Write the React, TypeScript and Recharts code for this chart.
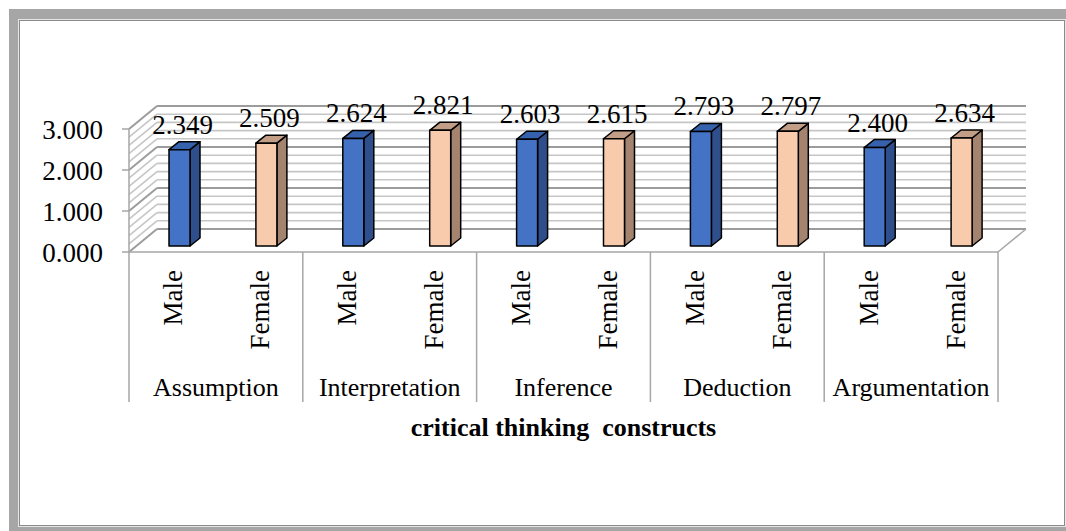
import { BarChart, Bar, XAxis, YAxis, CartesianGrid, LabelList } from 'recharts';

const constructs = ['Assumption', 'Interpretation', 'Inference', 'Deduction', 'Argumentation'];
const genders = ['Male', 'Female'];
const maleScores = [2.349, 2.624, 2.603, 2.793, 2.4];
const femaleScores = [2.509, 2.821, 2.615, 2.797, 2.634];
const valueTicks = [0, 1, 2, 3];
const wallTicks = [0, 0.2, 0.4, 0.6, 0.8, 1, 1.2, 1.4, 1.6, 1.8, 2, 2.2, 2.4, 2.6, 2.8, 3];
const axisTitle = 'critical thinking  constructs';

const data = constructs.flatMap((construct, i) => [
  { id: `${construct}-${genders[0]}`, construct, gender: genders[0], score: maleScores[i] },
  { id: `${construct}-${genders[1]}`, construct, gender: genders[1], score: femaleScores[i] },
]);

// layout
const W = 1066;
const H = 531;
const PLOT_LEFT = 129;
const PLOT_RIGHT = 998;
const SLOT = (PLOT_RIGHT - PLOT_LEFT) / data.length;
const FONT = 'Liberation Serif';
const GRID_GRAY = '#a6a6a6';

// fake 3d offsets
const WALL_DX = 28;
const WALL_DY = -23;
const BAR_OFF_X = 7;
const BAR_OFF_Y = -6;
const BAR_DX = 10;
const BAR_DY = -8;

const colors: Record<string, { front: string; side: string; top: string }> = {
  Male: { front: '#4472c4', side: '#2e4f8c', top: '#3662ad' },
  Female: { front: '#f8cbad', side: '#a5846f', top: '#c29e86' },
};

function WallLine(props: any) {
  const { x1, y1, x2, index, y, height } = props;
  const major = index % 5 === 0;
  const stroke = major ? '#9c9c9c' : '#c6c6c6';
  const sw = major ? 2 : 1.6;
  const isFloor = typeof y === 'number' && typeof height === 'number' && Math.abs(y1 - (y + height)) < 1;
  return (
    <g key={props.key ?? `wall-${index}`}>
      <line x1={x1} y1={y1} x2={x1 + WALL_DX} y2={y1 + WALL_DY} stroke={stroke} strokeWidth={sw} />
      <line x1={x1 + WALL_DX} y1={y1 + WALL_DY} x2={x2 + WALL_DX} y2={y1 + WALL_DY} stroke={stroke} strokeWidth={sw} />
      {isFloor && <line x1={x2} y1={y1} x2={x2 + WALL_DX} y2={y1 + WALL_DY} stroke={GRID_GRAY} strokeWidth={1.5} />}
    </g>
  );
}

function Column3D(props: any) {
  const { x, y, width, height, payload } = props;
  if (!height || height <= 0) return null;
  const c = colors[payload.gender];
  const fx = x + BAR_OFF_X;
  const fy = y + BAR_OFF_Y;
  const r = fx + width;
  const b = fy + height;
  return (
    <g stroke="#000" strokeWidth={1.5} strokeLinejoin="round">
      <polygon points={`${r},${fy} ${r + BAR_DX},${fy + BAR_DY} ${r + BAR_DX},${b + BAR_DY} ${r},${b}`} fill={c.side} />
      <polygon points={`${fx},${fy} ${fx + BAR_DX},${fy + BAR_DY} ${r + BAR_DX},${fy + BAR_DY} ${r},${fy}`} fill={c.top} />
      <rect x={fx} y={fy} width={width} height={height} fill={c.front} />
    </g>
  );
}

function ScoreLabel(props: any) {
  const { x, y, width, value } = props;
  return (
    <text x={x + width / 2 + BAR_OFF_X + 3} y={y - 22} textAnchor="middle" fontSize={27} fontFamily={FONT} fill="#000">
      {Number(value).toFixed(3)}
    </text>
  );
}

function CategoryTick(props: any) {
  const { x, y, index } = props;
  const row = data[index];
  if (!row) return null;
  const first = index % 2 === 0;
  const last = index === data.length - 1;
  return (
    <g>
      <text
        transform={`translate(${x + 10},${y + 18}) rotate(-90)`}
        textAnchor="end"
        fontSize={27}
        fontFamily={FONT}
        fill="#000"
      >
        {row.gender}
      </text>
      {first && (
        <>
          <line x1={x - SLOT / 2} y1={y} x2={x - SLOT / 2} y2={y + 150} stroke={GRID_GRAY} strokeWidth={1.5} />
          <text x={x + SLOT / 2} y={y + 144} textAnchor="middle" fontSize={26} fontFamily={FONT} fill="#000">
            {row.construct}
          </text>
        </>
      )}
      {last && <line x1={x + SLOT / 2} y1={y} x2={x + SLOT / 2} y2={y + 150} stroke={GRID_GRAY} strokeWidth={1.5} />}
    </g>
  );
}

function AxisTitle(props: any) {
  const vb = props.viewBox || {};
  return (
    <text x={vb.x + vb.width / 2} y={vb.y + 184} textAnchor="middle" fontSize={26} fontWeight="bold" fontFamily={FONT} fill="#000" style={{ whiteSpace: 'pre' }}>
      {axisTitle}
    </text>
  );
}

export default function App() {
  return (
    <div style={{ position: 'absolute', left: 0, top: 0, width: W, height: H, background: '#fff', fontFamily: FONT }}>
      <div style={{ position: 'absolute', left: 9, top: 9, width: W - 9, height: H - 9, background: '#a6a6a6' }} />
      <div
        style={{
          position: 'absolute',
          left: 19,
          top: 20,
          width: 1044,
          height: 504,
          background: '#fff',
          border: '1px solid #8a8a8a',
          boxShadow: '0 0 0 1px #e6e6e6',
        }}
      />
      <div style={{ position: 'absolute', left: 0, top: 0 }}>
        <BarChart
          width={W}
          height={H}
          data={data}
          margin={{ top: 129, right: W - PLOT_RIGHT, left: PLOT_LEFT - 100, bottom: 29 }}
          barSize={21}
        >
          <CartesianGrid vertical={false} horizontalValues={wallTicks} horizontal={WallLine} />
          <XAxis
            dataKey="id"
            interval={0}
            height={250}
            tickLine={false}
            tickSize={0}
            tickMargin={0}
            axisLine={{ stroke: GRID_GRAY, strokeWidth: 1.5 }}
            tick={<CategoryTick />}
            label={<AxisTitle />}
          />
          <YAxis
            domain={[0, 3]}
            ticks={valueTicks}
            interval={0}
            width={100}
            tickFormatter={(v: number) => v.toFixed(3)}
            tickSize={7}
            tickMargin={19}
            axisLine={{ stroke: GRID_GRAY, strokeWidth: 1.5 }}
            tickLine={{ stroke: GRID_GRAY, strokeWidth: 1.5 }}
            tick={{ fill: '#000', fontSize: 27, fontFamily: FONT }}
          />
          <Bar dataKey="score" shape={<Column3D />} isAnimationActive={false}>
            <LabelList dataKey="score" content={<ScoreLabel />} />
          </Bar>
        </BarChart>
      </div>
    </div>
  );
}
